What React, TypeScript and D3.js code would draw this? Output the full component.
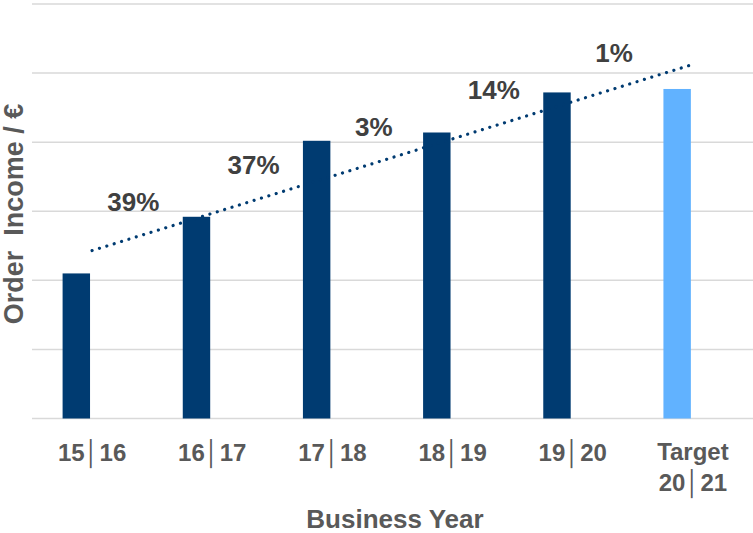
import React from "react";
import * as d3 from "d3";

const categories = ["15│16", "16│17", "17│18", "18│19", "19│20", "Target\n20│21"];
const orderIncome = [2.1, 2.92, 4.02, 4.14, 4.72, 4.77];
const isTarget = [false, false, false, false, false, true];
const growthLabels = ["39%", "37%", "3%", "14%", "1%"];
const yTicks = [0, 1, 2, 3, 4, 5, 6];

const W = 753;
const H = 533;
const FONT = "'Liberation Sans', Arial, sans-serif";

export default function App() {
  const x = d3.scaleBand<string>().domain(categories).range([32, 753]).padding(0);
  const inner = d3
    .scaleBand<string>()
    .domain(["actual", "blank"])
    .range([0, x.bandwidth()])
    .paddingInner(0.13)
    .paddingOuter(0.97);
  const y = d3.scaleLinear().domain([0, 6]).range([418.5, 4]);

  const cx = (i: number) => (x(categories[i]) as number) + x.bandwidth() / 2;
  const barCenter = (i: number) =>
    (x(categories[i]) as number) + (inner("actual") as number) + inner.bandwidth() / 2;

  // linear least-squares trendline over all categories
  const n = orderIncome.length;
  const idx = d3.range(n);
  const mx = d3.mean(idx) as number;
  const my = d3.mean(orderIncome) as number;
  const sxy = d3.sum(idx, (i) => (i - mx) * (orderIncome[i] - my));
  const sxx = d3.sum(idx, (i) => (i - mx) * (i - mx));
  const slope = sxy / sxx;
  const intercept = my - slope * mx;
  const trendAt = (t: number) => intercept + slope * t;

  const idxScale = d3.scaleLinear().domain([0, n - 1]).range([cx(0), cx(n - 1)]);
  const trendLine = d3
    .line<number>()
    .x((t) => idxScale(t))
    .y((t) => y(trendAt(t)));

  return (
    <svg
      width={W}
      height={H}
      style={{ position: "absolute", left: 0, top: 0, background: "#fff" }}
      fontFamily={FONT}
    >
      {yTicks.map((t) => (
        <line
          key={t}
          x1={32}
          x2={W}
          y1={y(t)}
          y2={y(t)}
          stroke="#d9d9d9"
          strokeWidth={1.5}
        />
      ))}
      {orderIncome.map((v, i) => (
        <rect
          key={i}
          x={(x(categories[i]) as number) + (inner("actual") as number)}
          y={y(v)}
          width={inner.bandwidth()}
          height={y(0) - y(v)}
          fill={isTarget[i] ? "#61b2ff" : "#003b71"}
        />
      ))}
      <path
        d={trendLine([0, n - 1]) as string}
        fill="none"
        stroke="#003b71"
        strokeWidth={3.2}
        strokeLinecap="round"
        strokeDasharray="0.01 7.7"
      />
      {growthLabels.map((g, i) => {
        const lx = (barCenter(i) + barCenter(i + 1)) / 2 - 3;
        const t = idxScale.invert(lx);
        return (
          <text
            key={g}
            x={lx}
            y={y(trendAt(t)) - 27}
            textAnchor="middle"
            fontSize={26}
            fontWeight="bold"
            fill="#404040"
          >
            {g}
          </text>
        );
      })}
      {categories.map((c, i) => {
        const lines = c.split("\n");
        const base = lines.length > 1 ? 460 : 461;
        return (
          <text
            key={c}
            x={cx(i)}
            y={base}
            textAnchor="middle"
            fontSize={24}
            fontWeight="bold"
            fill="#595959"
          >
            {lines.map((l, k) => (
              <tspan key={k} x={cx(i)} y={base + k * 31}>
                {l}
              </tspan>
            ))}
          </text>
        );
      })}
      <text
        x={395}
        y={528}
        textAnchor="middle"
        fontSize={26}
        fontWeight="bold"
        fill="#595959"
      >
        Business Year
      </text>
      <text
        transform={`translate(23, 214) rotate(-90)`}
        textAnchor="middle"
        fontSize={27}
        fontWeight="bold"
        fill="#595959"
        style={{ whiteSpace: "pre" }}
      >
        {"Order  Income / €"}
      </text>
    </svg>
  );
}
